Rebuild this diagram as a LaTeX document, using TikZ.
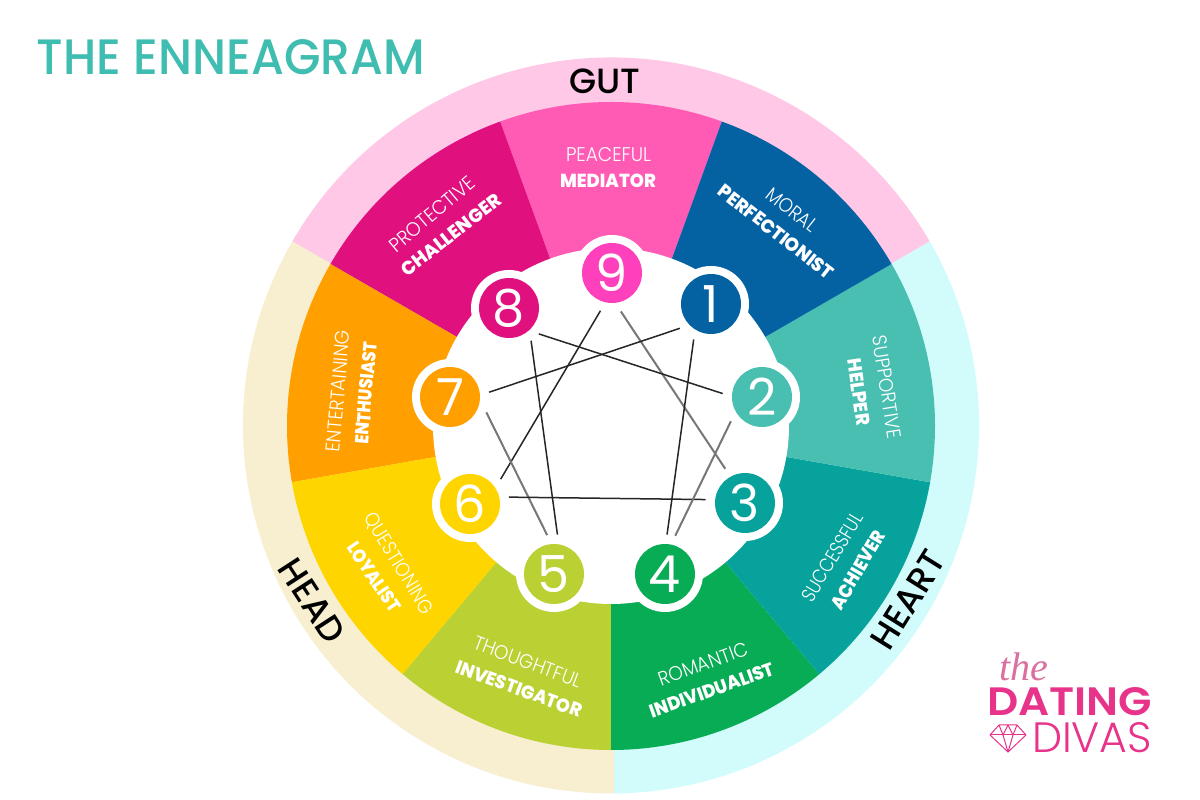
\documentclass[tikz,border=0pt]{standalone}
\usepackage{graphicx}
\usepackage{fontspec}
\setmainfont{Poppins}
\newfontfamily\lightf{Poppins Light}
\newfontfamily\heavyf{Poppins ExtraBold}
\newfontfamily\medf{Poppins Medium}
\newfontfamily\boldf{Poppins SemiBold}
\newfontfamily\scriptf{Liberation Serif}[ItalicFont=* Italic]
\definecolor{ringpink}{HTML}{FFC8E6}
\definecolor{ringbeige}{HTML}{F7EFCF}
\definecolor{ringcyan}{HTML}{D2FCFC}
\definecolor{cnine}{HTML}{FF5BB5}
\definecolor{cninedot}{HTML}{FF40BC}
\definecolor{ceight}{HTML}{E0107F}
\definecolor{cseven}{HTML}{FFA000}
\definecolor{csix}{HTML}{FFD500}
\definecolor{cfive}{HTML}{BBD032}
\definecolor{cfour}{HTML}{07AC55}
\definecolor{cthree}{HTML}{08A29C}
\definecolor{ctwo}{HTML}{48BFB0}
\definecolor{cone}{HTML}{0462A3}
\definecolor{titleteal}{HTML}{40BDB1}
\definecolor{logopink}{HTML}{E8338A}
\definecolor{logosoft}{HTML}{D9709F}
\definecolor{greyline}{HTML}{777777}
\tikzset{
  halo/.style={circle,fill=white,minimum size=76pt,inner sep=0pt,outer sep=1.5pt},
  numdot/.style={circle,minimum size=60pt,inner sep=0pt,text=white,font=\fontsize{51}{51}\selectfont},
  seclabel/.style={text=white,inner sep=0pt},
  zone/.style={text=black,inner sep=0pt,font=\medf\fontsize{35}{35}\selectfont},
  blackline/.style={draw=black!85,line width=1.5pt},
  greyline/.style={draw=greyline,line width=2pt},
}
\newcommand{\lbl}[2]{\resizebox{#1pt}{14pt}{\lightf\fontsize{18}{18}\selectfont #2}}
\newcommand{\hbl}[2]{\resizebox{#1pt}{13.5pt}{\heavyf\fontsize{18}{18}\selectfont #2}}
\begin{document}
\begin{tikzpicture}[x=1pt,y=1pt]
\useasboundingbox (0,0) rectangle (1200,800);
\fill[white] (0,0) rectangle (1200,800);
% outer ring
\begin{scope}[shift={(611,374.5)}]
\fill[ringpink] (0,0) -- (150:368) arc[start angle=150,end angle=30,radius=368] -- cycle;
\fill[ringcyan] (0,0) -- (30:368) arc[start angle=30,end angle=-89.5,radius=368] -- cycle;
\fill[ringbeige] (0,0) -- (150:368) arc[start angle=150,end angle=270.5,radius=368] -- cycle;
\end{scope}
% wheel
\begin{scope}[shift={(611,374)}]
\foreach \s/\c in {110/cnine,150/ceight,190/cseven,230/csix,270/cfive,310/cfour,350/cthree,390/ctwo,430/cone}{
  \fill[\c] (0,0) -- (\s-40:324) arc[start angle=\s-40,end angle=\s,radius=324] -- cycle;
}
\fill[white] (0,0) circle[radius=178];
\end{scope}
% halos
\foreach \n/\x/\y in {9/612/273,1/711/304,2/762/397,3/745/503,4/665/574,5/554/574,6/470/504,7/450/397,8/509/308}{
  \node[halo] (h\n) at (\x,800-\y) {};
}
% connectors
\draw[greyline] (h9.283) -- (h3.120.5);
\draw[blackline] (h9.253) -- (h6.39);
\draw[blackline] (h8.319) -- (h2.175.6);
\draw[blackline] (h8.304) -- (h5.85.6);
\draw[blackline] (h1.218) -- (h7.7.5);
\draw[blackline] (h1.244) -- (h4.87);
\draw[greyline] (h7.337) -- (h5.100);
\draw[blackline] (h6.10.4) -- (h3.175.5);
\draw[greyline] (h2.218) -- (h4.75);
% number dots
\node[numdot,fill=cninedot] (n9) at (h9) {9};
\node[numdot,fill=cone] (n1) at (h1) {1};
\node[numdot,fill=ctwo] (n2) at (h2) {2};
\node[numdot,fill=cthree] (n3) at (h3) {3};
\node[numdot,fill=cfour] (n4) at (h4) {4};
\node[numdot,fill=cfive] (n5) at (h5) {5};
\node[numdot,fill=csix] (n6) at (h6) {6};
\node[numdot,fill=cseven] (n7) at (h7) {7};
\node[numdot,fill=ceight] (n8) at (h8) {8};
% sector labels
\node[seclabel] (l9a) at (608.5,800-155) {\lbl{85}{PEACEFUL}};
\node[seclabel] (l9b) at (608,800-181) {\hbl{96}{MEDIATOR}};
\node[seclabel,rotate=-38] (l1a) at (792,800-210) {\lbl{59}{MORAL}};
\node[seclabel,rotate=-38] (l1b) at (776,800-232) {\hbl{141}{PERFECTIONIST}};
\node[seclabel,rotate=-81] (l2a) at (887,800-387) {\lbl{104}{SUPPORTIVE}};
\node[seclabel,rotate=-82] (l2b) at (859,800-392) {\hbl{67}{HELPER}};
\node[seclabel,rotate=59] (l3a) at (832,800-557) {\lbl{100}{SUCCESSFUL}};
\node[seclabel,rotate=60] (l3b) at (858,800-570) {\hbl{88}{ACHIEVER}};
\node[seclabel,rotate=20] (l4a) at (703,800-664) {\lbl{94}{ROMANTIC}};
\node[seclabel,rotate=19.5] (l4b) at (712,800-690) {\hbl{131}{INDIVIDUALIST}};
\node[seclabel,rotate=-20.5] (l5a) at (528,800-662) {\lbl{114}{THOUGHTFUL}};
\node[seclabel,rotate=-20] (l5b) at (519,800-689) {\hbl{133}{INVESTIGATOR}};
\node[seclabel,rotate=-58.5] (l6a) at (398,800-564) {\lbl{115}{QUESTIONING}};
\node[seclabel,rotate=-56] (l6b) at (374,800-577) {\hbl{80}{LOYALIST}};
\node[seclabel,rotate=85] (l7a) at (338,800-391) {\lbl{122}{ENTERTAINING}};
\node[seclabel,rotate=85] (l7b) at (366,800-393) {\hbl{103}{ENTHUSIAST}};
\node[seclabel,rotate=40] (l8a) at (432,800-214) {\lbl{105}{PROTECTIVE}};
\node[seclabel,rotate=38] (l8b) at (451,800-235) {\hbl{121}{CHALLENGER}};
% zones
\node[zone] (gut) at (605,800-81) {GUT};
\node[zone,rotate=-57] (head) at (312,800-601) {HEAD};
\node[zone,rotate=58] (heart) at (908,800-600) {HEART};
% title
\node[inner sep=0pt,text=titleteal] (title) at (231,800-57.5) {\resizebox{388pt}{35pt}{\medf\fontsize{46}{46}\selectfont THE ENNEAGRAM}};
% logo
\node[inner sep=0pt,text=logosoft,font=\scriptf\itshape\fontsize{40}{40}\selectfont] (the) at (1024,800-667) {the};
\node[inner sep=0pt,text=logopink] (dating) at (1069.5,800-702) {\resizebox{165pt}{28pt}{\boldf\fontsize{40}{40}\selectfont DATING}};
\node[inner sep=0pt,text=logopink] (divas) at (1092,800-738) {\resizebox{120pt}{30pt}{\lightf\fontsize{40}{40}\selectfont DIVAS}};
\begin{scope}[draw=logopink,line width=1pt,line join=round]
\draw (990,800-735) -- (999,800-725) -- (1017,800-725) -- (1026,800-735) -- (1008,800-752) -- cycle;
\draw (990,800-735) -- (1026,800-735);
\draw (999,800-725) -- (1003,800-735) -- (1008,800-752) -- (1013,800-735) -- (1017,800-725);
\draw (1003,800-735) -- (1008,800-725) -- (1013,800-735);
\end{scope}
\end{tikzpicture}
\end{document}
